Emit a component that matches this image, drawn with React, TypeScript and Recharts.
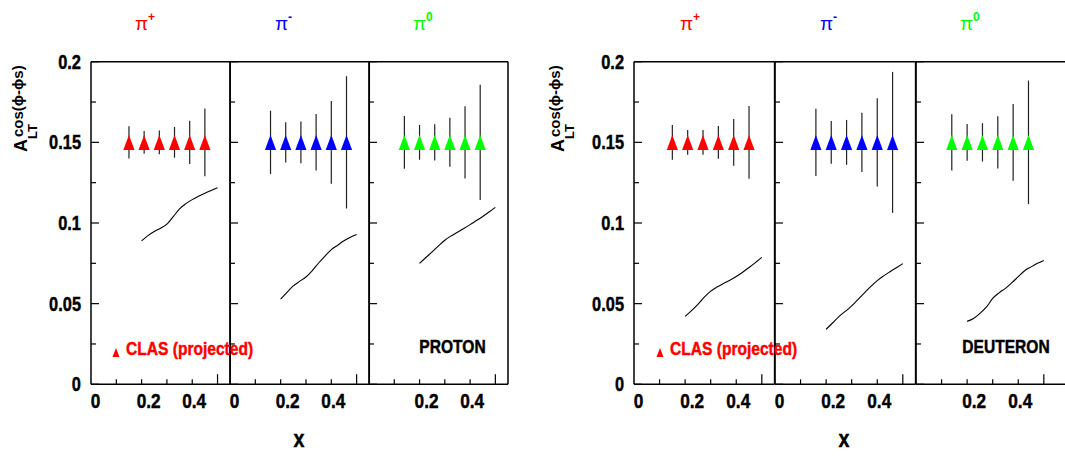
import React from 'react';
import { ComposedChart, Line, Scatter, ErrorBar, XAxis, YAxis } from 'recharts';

// projected CLAS points: x positions per pion
const xPiPlus = [0.15, 0.21, 0.27, 0.33, 0.39, 0.45];
const xPiMinus = [0.16, 0.22, 0.28, 0.34, 0.4, 0.46];
const xPiZero = [0.14, 0.2, 0.26, 0.32, 0.38, 0.44];
const projectedValue = [0.15, 0.15, 0.15, 0.15, 0.15, 0.15];

// projected statistical errors
const protonErrPiPlus = [0.01, 0.0071, 0.0074, 0.0095, 0.0134, 0.021];
const protonErrPiMinus = [0.0196, 0.0125, 0.0129, 0.0175, 0.0256, 0.041];
const protonErrPiZero = [0.0164, 0.0108, 0.0112, 0.0152, 0.0224, 0.0357];
const deuteronErrPiPlus = [0.0108, 0.0077, 0.0077, 0.0101, 0.0145, 0.0226];
const deuteronErrPiMinus = [0.0208, 0.0133, 0.0139, 0.0184, 0.0273, 0.0437];
const deuteronErrPiZero = [0.0175, 0.0114, 0.0119, 0.0162, 0.0238, 0.0383];

// model curves
const curveX = [0.2, 0.225, 0.25, 0.275, 0.3, 0.325, 0.35, 0.375, 0.4, 0.425, 0.45, 0.475, 0.5];
const protonCurvePiPlus = [0.0889, 0.0922, 0.0947, 0.0968, 0.0993, 0.104, 0.1088, 0.112, 0.1145, 0.1166, 0.1185, 0.1202, 0.1218];
const protonCurvePiMinus = [0.0528, 0.057, 0.061, 0.0638, 0.0665, 0.0705, 0.0752, 0.0795, 0.0835, 0.0862, 0.089, 0.0912, 0.0929];
const protonCurvePiZero = [0.075, 0.0786, 0.0821, 0.0858, 0.0893, 0.092, 0.0943, 0.0966, 0.099, 0.1015, 0.104, 0.1068, 0.1097];
const deuteronCurvePiPlus = [0.0421, 0.0457, 0.0496, 0.054, 0.0578, 0.0603, 0.0625, 0.0645, 0.0668, 0.0695, 0.0724, 0.0755, 0.0787];
const deuteronCurvePiMinus = [0.0341, 0.038, 0.042, 0.0452, 0.0486, 0.0527, 0.0567, 0.0607, 0.0643, 0.0672, 0.0698, 0.0723, 0.0748];
const deuteronCurvePiZero = [0.039, 0.0408, 0.044, 0.0478, 0.0532, 0.0567, 0.0595, 0.063, 0.0667, 0.0704, 0.0728, 0.075, 0.0768];

// axes
const yTicks = [0, 0.025, 0.05, 0.075, 0.1, 0.125, 0.15, 0.175, 0.2];
const yMajor = [0, 0.05, 0.1, 0.15, 0.2];
const yLabels = ['0', '0.05', '0.1', '0.15', '0.2'];
const xTicks = [0, 0.1, 0.2, 0.3, 0.4, 0.5];
const xLabelValues = [0, 0.2, 0.4];
const xLabels = ['0', '0.2', '0.4'];

const FONT = "'Liberation Sans', Arial, Helvetica, sans-serif";
const NARROW = 0.82; // helvetica-narrow look
const TOP = 61.7;
const BOTTOM = 384.3;
const H = 456;
const ML = 90;
const MR = 12;
const xLabelShift = [4.5, 7, 2];

// bold condensed text, scaled around its anchor point
function NText({ x, y, size, anchor = 'start', fill = '#000', children }: any) {
  return (
    <text
      transform={`translate(${x},${y}) scale(${NARROW},1)`}
      x={0}
      y={0}
      textAnchor={anchor}
      fontFamily={FONT}
      fontWeight="bold"
      fontSize={size}
      fill={fill}
      stroke={fill}
      strokeWidth={0.45}
    >
      {children}
    </text>
  );
}

const triangle = (color: string) => (p: any) => {
  const { cx, cy } = p;
  if (cx == null || cy == null) return <g />;
  return <polygon points={`${cx},${cy - 7.3} ${cx - 5.6},${cy + 7.6} ${cx + 5.6},${cy + 7.6}`} fill={color} />;
};

function renderYTick(p: any, showLabel: boolean) {
  const { x, y, payload } = p;
  const mi = yMajor.indexOf(payload.value);
  return (
    <g>
      <line x1={x} x2={x + (mi >= 0 ? 8 : 5)} y1={y} y2={y} stroke="#000" strokeWidth={1.2} />
      {showLabel && mi >= 0 && (
        <NText x={x - 10} y={y + 7} size={20} anchor="end">{yLabels[mi]}</NText>
      )}
    </g>
  );
}

function renderXTick(p: any, showZero: boolean) {
  const { x, y, payload } = p;
  const v = payload.value;
  const li = xLabelValues.indexOf(v);
  const len = v === 0.5 ? 10 : 5;
  return (
    <g>
      {v > 0 && <line x1={x} x2={x} y1={y} y2={y - len} stroke="#000" strokeWidth={1.2} />}
      {li >= 0 && (li > 0 || showZero) && (
        <NText x={x + xLabelShift[li]} y={y + 24} size={21} anchor="middle">{xLabels[li]}</NText>
      )}
    </g>
  );
}

interface PanelProps {
  left: number;
  width: number;
  xMax: number;
  xs: number[];
  errs: number[];
  curve: number[];
  color: string;
  showYLabels: boolean;
  showZero: boolean;
}

function Panel({ left, width, xMax, xs, errs, curve, color, showYLabels, showZero }: PanelProps) {
  const points = xs.map((x, i) => ({ x, y: projectedValue[i], err: errs[i] }));
  const line = curveX.map((x, i) => ({ x, y: curve[i] }));
  const frame = { stroke: '#000', strokeWidth: 1.5 };
  // every axis is 1px thick (a 0px axis is not drawn), the margins make up for it
  return (
    <div style={{ position: 'absolute', left: left - ML, top: 0 }}>
      <ComposedChart
        width={ML + width + MR}
        height={H}
        margin={{ top: TOP - 1, bottom: H - BOTTOM - 1, left: ML - 1, right: MR - 1 }}
      >
        <XAxis
          dataKey="x"
          type="number"
          domain={[0, xMax]}
          ticks={xTicks}
          interval={0}
          height={1}
          tickSize={0}
          tickMargin={0}
          tickLine={false}
          axisLine={frame}
          tick={(p: any) => renderXTick(p, showZero)}
        />
        <XAxis xAxisId="top" orientation="top" type="number" domain={[0, xMax]} ticks={[0]} height={1} tick={false} tickLine={false} axisLine={frame} />
        <YAxis
          type="number"
          domain={[0, 0.2]}
          ticks={yTicks}
          interval={0}
          width={1}
          tickSize={0}
          tickMargin={0}
          tickLine={false}
          axisLine={frame}
          tick={(p: any) => renderYTick(p, showYLabels)}
        />
        <YAxis yAxisId="right" orientation="right" type="number" domain={[0, 0.2]} ticks={[0]} width={1} tick={false} tickLine={false} axisLine={frame} />
        <Line data={line} dataKey="y" type="monotone" stroke="#000" strokeWidth={1.1} dot={false} isAnimationActive={false} />
        <Scatter data={points} dataKey="y" shape={triangle(color)} isAnimationActive={false}>
          <ErrorBar dataKey="err" direction="y" width={0} stroke="#222" strokeWidth={1.2} isAnimationActive={false} />
        </Scatter>
      </ComposedChart>
    </div>
  );
}

function PionLabel({ x, sup, color }: { x: number; sup: string; color: string }) {
  return (
    <text x={x} y={30} fill={color} fontFamily={FONT} fontSize={19}>
      π
      <tspan fontSize={12} dy={-9} fontWeight="bold">{sup}</tspan>
    </text>
  );
}

function YTitle({ x, y }: { x: number; y: number }) {
  return (
    <g transform={`translate(${x},${y}) rotate(-90)`}>
      <text x={0} y={0} fontFamily={FONT} fontWeight="bold" fontSize={18}>A</text>
      <text x={13} y={10} fontFamily={FONT} fontWeight="bold" fontSize={13}>LT</text>
      <text x={15} y={-4} fontFamily={FONT} fontWeight="bold" fontSize={15}>cos(ϕ-ϕs)</text>
    </g>
  );
}

function ClasLegend({ x }: { x: number }) {
  return (
    <g>
      <polygon points={`${x},348 ${x - 3.5},357 ${x + 3.5},357`} fill="#ff0000" />
      <NText x={x + 10} y={355} size={19} fill="#ff0000">CLAS (projected)</NText>
    </g>
  );
}

export default function App() {
  const red = '#ff0000';
  const blue = '#0000ff';
  const green = '#00ff00';
  return (
    <div style={{ position: 'absolute', left: 0, top: 0, width: 1065, height: H, overflow: 'hidden', background: '#fff' }}>
      <Panel left={90.5} width={139.2} xMax={0.55} xs={xPiPlus} errs={protonErrPiPlus} curve={protonCurvePiPlus} color={red} showYLabels showZero />
      <Panel left={229.7} width={139.3} xMax={0.55} xs={xPiMinus} errs={protonErrPiMinus} curve={protonCurvePiMinus} color={blue} showYLabels={false} showZero />
      <Panel left={369} width={139} xMax={0.55} xs={xPiZero} errs={protonErrPiZero} curve={protonCurvePiZero} color={green} showYLabels={false} showZero={false} />
      <Panel left={634.4} width={140.6} xMax={0.55} xs={xPiPlus} errs={deuteronErrPiPlus} curve={deuteronCurvePiPlus} color={red} showYLabels showZero />
      <Panel left={775} width={140.6} xMax={0.55} xs={xPiMinus} errs={deuteronErrPiMinus} curve={deuteronCurvePiMinus} color={blue} showYLabels={false} showZero />
      <Panel left={915.6} width={153.4} xMax={0.6} xs={xPiZero} errs={deuteronErrPiZero} curve={deuteronCurvePiZero} color={green} showYLabels={false} showZero={false} />

      <svg width={1065} height={H} style={{ position: 'absolute', left: 0, top: 0, pointerEvents: 'none' }}>
        <PionLabel x={135} sup="+" color={red} />
        <PionLabel x={275} sup="-" color={blue} />
        <PionLabel x={413} sup="0" color={green} />
        <PionLabel x={680} sup="+" color={red} />
        <PionLabel x={820} sup="-" color={blue} />
        <PionLabel x={960} sup="0" color={green} />

        <YTitle x={27} y={152} />
        <YTitle x={564} y={152} />

        <ClasLegend x={116} />
        <ClasLegend x={660} />
        <NText x={452.5} y={353} size={19} anchor="middle">PROTON</NText>
        <NText x={1006} y={353} size={19} anchor="middle">DEUTERON</NText>

        <NText x={299} y={447} size={24} anchor="middle">x</NText>
        <NText x={844} y={447} size={24} anchor="middle">x</NText>
      </svg>
    </div>
  );
}
